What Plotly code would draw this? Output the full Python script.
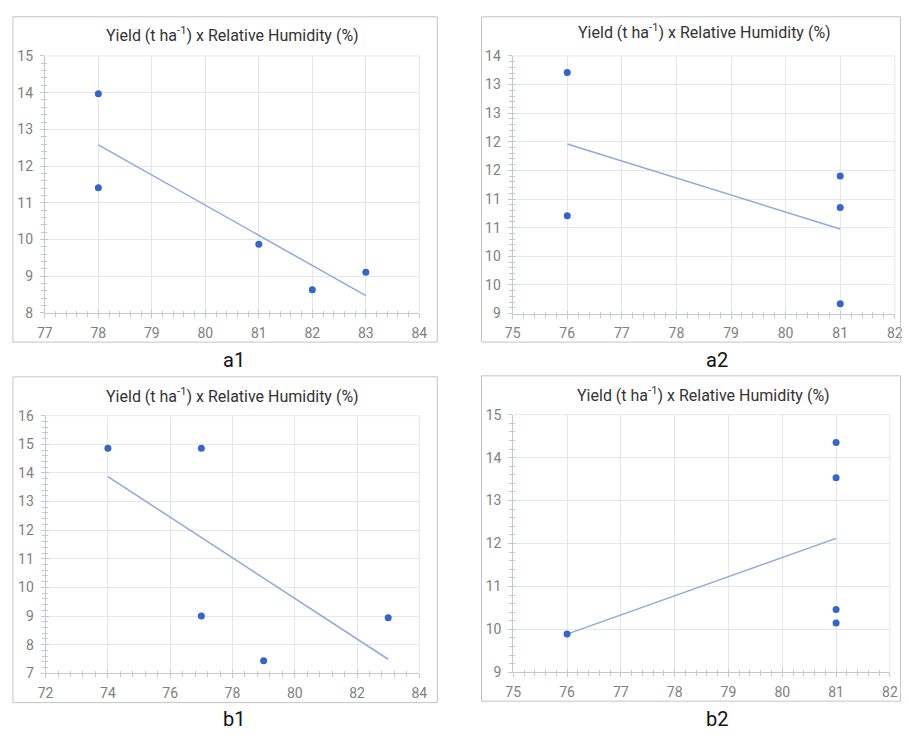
import numpy as np
import plotly.graph_objects as go

W, H = 909, 739

# ---------------- data ----------------
a1_x = [78, 78, 81, 82, 83]
a1_y = [13.97, 11.41, 9.87, 8.63, 9.11]
a1_trend_x = [78, 83]
a1_trend_y = [12.58, 8.47]

a2_x = [76, 76, 81, 81, 81]
a2_y = [13.68, 10.90, 11.67, 11.06, 9.19]
a2_trend_x = [76, 81]
a2_trend_y = [12.29, 10.64]

b1_x = [74, 77, 77, 79, 83]
b1_y = [14.86, 14.86, 9.00, 7.44, 8.94]
b1_trend_x = [74, 83]
b1_trend_y = [13.87, 7.49]

b2_x = [76, 81, 81, 81, 81]
b2_y = [9.89, 14.35, 13.53, 10.46, 10.15]
b2_trend_x = [76, 81]
b2_trend_y = [9.89, 12.12]

a2_ytick_text = ["9", "10", "10", "11", "11", "12", "12", "13", "13", "14"]

title_text = "Yield (t ha<sup>-1</sup>) x Relative Humidity (%)"
panel_labels = ["a1", "a2", "b1", "b2"]

# ---------------- layout helpers ----------------
def px_x(p):
    return p / W

def px_y(p):
    return 1 - p / H

# plot-area pixel boxes: (left, right, top, bottom)
boxes = [
    (37.5, 418.7, 49.0, 311.7),
    (513.7, 902.7, 49.0, 312.3),
    (38.3, 418.7, 416.7, 680.0),
    (514.3, 897.7, 415.7, 679.0),
]
# panel borders: (left, right, top, bottom)
borders = [
    (5, 437, 9, 341.5),
    (482, 908.5, 9, 341.5),
    (5, 437, 377, 710),
    (482, 908.5, 376, 708.5),
]
title_pos = [(229, 27), (709, 24), (229, 396), (708, 395)]
label_pos = [(230, 360), (722, 360), (230, 727), (722, 727)]

xranges = [[77, 84], [75, 82], [72, 84], [75, 82]]
yranges = [[8, 15], [9, 14], [7, 16], [9, 15]]
xdticks = [1, 1, 2, 1]
xminor = [0.2, 0.2, 0.4, 0.2]

datasets = [
    (a1_x, a1_y, a1_trend_x, a1_trend_y),
    (a2_x, a2_y, a2_trend_x, a2_trend_y),
    (b1_x, b1_y, b1_trend_x, b1_trend_y),
    (b2_x, b2_y, b2_trend_x, b2_trend_y),
]

GRID = "#e4e7ee"
AXIS = "#c3c8d2"
TICKFONT = dict(family="Roboto", size=14, color="#808080")
POINT = "#3366cc"
LINE = "#8eaadb"

fig = go.Figure()
layout = dict(
    width=W, height=H,
    margin=dict(l=0, r=0, t=0, b=0),
    paper_bgcolor="white", plot_bgcolor="white",
    showlegend=False,
    annotations=[], shapes=[],
)

for i in range(4):
    n = i + 1
    xs = "x" if n == 1 else f"x{n}"
    ys = "y" if n == 1 else f"y{n}"
    xa = "xaxis" if n == 1 else f"xaxis{n}"
    ya = "yaxis" if n == 1 else f"yaxis{n}"
    # overlay axes that carry the inner half of the crossing ticks
    ox = f"x{n + 4}"
    oy = f"y{n + 4}"
    oxa = f"xaxis{n + 4}"
    oya = f"yaxis{n + 4}"
    l, r, t, b = boxes[i]
    px, py, tx, ty = datasets[i]

    fig.add_trace(go.Scatter(x=tx, y=ty, mode="lines", xaxis=xs, yaxis=ys,
                             line=dict(color=LINE, width=1.5), hoverinfo="skip"))
    fig.add_trace(go.Scatter(x=px, y=py, mode="markers", xaxis=xs, yaxis=ys,
                             marker=dict(color=POINT, size=7)))

    xaxis = dict(
        domain=[px_x(l), px_x(r)], anchor=ys, range=xranges[i],
        tick0=xranges[i][0], dtick=xdticks[i],
        showgrid=True, gridcolor=GRID, gridwidth=1, zeroline=False,
        showline=True, linecolor=AXIS, linewidth=1,
        ticks="outside", ticklen=4, tickcolor=AXIS,
        minor=dict(ticks="outside", ticklen=3, tickcolor=AXIS, dtick=xminor[i],
                   tick0=xranges[i][0], showgrid=False),
        tickfont=TICKFONT, ticklabelstandoff=3, fixedrange=True,
    )
    xover = dict(
        overlaying=xs, anchor=ys, range=xranges[i],
        tick0=xranges[i][0], dtick=xdticks[i],
        showgrid=False, zeroline=False, showline=False, showticklabels=False,
        ticks="inside", ticklen=3, tickcolor=AXIS,
        minor=dict(ticks="inside", ticklen=2, tickcolor=AXIS, dtick=xminor[i],
                   tick0=xranges[i][0], showgrid=False),
        fixedrange=True,
    )
    yaxis = dict(
        domain=[px_y(b), px_y(t)], anchor=xs, range=yranges[i],
        showgrid=True, gridcolor=GRID, gridwidth=1, zeroline=False,
        showline=True, linecolor=AXIS, linewidth=1,
        ticks="outside", ticklen=4, tickcolor=AXIS,
        tickfont=TICKFONT, ticklabelstandoff=4, fixedrange=True,
    )
    yover = dict(
        overlaying=ys, anchor=xs, range=yranges[i], side="left",
        showgrid=False, zeroline=False, showline=False, showticklabels=False,
        ticks="inside", ticklen=3, tickcolor=AXIS, fixedrange=True,
    )
    lo, hi = yranges[i]
    if n == 2:
        step = (hi - lo) / (len(a2_ytick_text) - 1)
        tv = list(np.linspace(lo, hi, len(a2_ytick_text)))
        yaxis.update(tickmode="array", tickvals=tv, ticktext=a2_ytick_text,
                     minor=dict(ticks="outside", ticklen=3, tickcolor=AXIS,
                                tick0=lo, dtick=step / 5, showgrid=False))
        yover.update(tickmode="array", tickvals=tv,
                     minor=dict(ticks="inside", ticklen=2, tickcolor=AXIS,
                                tick0=lo, dtick=step / 5, showgrid=False))
    else:
        yaxis.update(tick0=lo, dtick=1,
                     minor=dict(ticks="outside", ticklen=3, tickcolor=AXIS,
                                tick0=lo, dtick=0.2, showgrid=False))
        yover.update(tick0=lo, dtick=1,
                     minor=dict(ticks="inside", ticklen=2, tickcolor=AXIS,
                                tick0=lo, dtick=0.2, showgrid=False))
    layout[xa] = xaxis
    layout[ya] = yaxis
    layout[oxa] = xover
    layout[oya] = yover

    # invisible traces so the overlay axes are drawn
    fig.add_trace(go.Scatter(x=[xranges[i][0]], y=[None], mode="markers",
                             xaxis=ox, yaxis=ys, hoverinfo="skip",
                             marker=dict(opacity=0)))
    fig.add_trace(go.Scatter(x=[None], y=[lo], mode="markers",
                             xaxis=xs, yaxis=oy, hoverinfo="skip",
                             marker=dict(opacity=0)))

    # grid lines on plot-area top/right edges
    layout["shapes"].append(dict(type="line", xref="paper", yref="paper",
                                 x0=px_x(l), x1=px_x(r), y0=px_y(t), y1=px_y(t),
                                 line=dict(color=GRID, width=1), layer="below"))
    layout["shapes"].append(dict(type="line", xref="paper", yref="paper",
                                 x0=px_x(r), x1=px_x(r), y0=px_y(b), y1=px_y(t),
                                 line=dict(color=GRID, width=1), layer="below"))

    # panel border
    bl, br, bt, bb = borders[i]
    layout["shapes"].append(dict(type="rect", xref="paper", yref="paper",
                                 x0=px_x(bl), x1=px_x(br), y0=px_y(bb), y1=px_y(bt),
                                 line=dict(color="#c4c4c4", width=1)))

    # title
    tx0, ty0 = title_pos[i]
    layout["annotations"].append(dict(
        text=title_text, xref="paper", yref="paper",
        x=px_x(tx0), y=px_y(ty0), xanchor="center", yanchor="middle",
        showarrow=False, font=dict(family="Roboto", size=16, color="#333333")))

    # panel label
    lx, ly = label_pos[i]
    layout["annotations"].append(dict(
        text=panel_labels[i], xref="paper", yref="paper",
        x=px_x(lx), y=px_y(ly), xanchor="center", yanchor="middle",
        showarrow=False, font=dict(family="Roboto", size=20, color="#111111")))

fig.update_layout(**layout)
fig.write_html("out.html")
